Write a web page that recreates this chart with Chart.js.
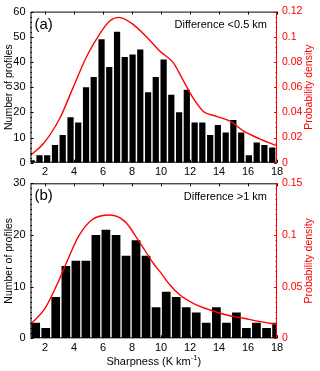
<!DOCTYPE html>
<html>
<head>
<meta charset="utf-8">
<script src="https://cdn.jsdelivr.net/npm/chart.js@4/dist/chart.umd.min.js"></script>
<style>
  html, body { margin: 0; padding: 0; background: #fff; }
  #wrap { position: relative; width: 320px; height: 371px; overflow: hidden; }
  canvas { position: absolute; left: 0; }
  #ca { top: 0; }
  #cb { top: 170px; }
</style>
</head>
<body>
<div id="wrap">
  <canvas id="ca" width="320" height="185"></canvas>
  <canvas id="cb" width="320" height="201"></canvas>
</div>
<script>
// ---------- data ----------
const xTicks = [2, 4, 6, 8, 10, 12, 14, 16, 18];

// Panel (a): Difference <0.5 km
const binCentersA = [1.08, 1.62, 2.15, 2.69, 3.22, 3.76, 4.29, 4.83, 5.36, 5.90, 6.43, 6.97,
                     7.50, 8.04, 8.57, 9.11, 9.64, 10.18, 10.71, 11.25, 11.78, 12.32, 12.85,
                     13.39, 13.92, 14.46, 14.99, 15.53, 16.06, 16.60, 17.13, 17.67];
const countsA = [1, 3, 3, 7, 11, 18, 16, 30, 34, 49, 38, 52, 42, 43, 45, 28,
                 34, 41, 27, 20, 29, 16, 16, 11, 15, 12, 17, 12, 3, 8, 7, 6];
const pdfXA = [1.0, 1.88, 3.03, 3.95, 4.88, 5.79, 6.48, 7.1, 8.09, 9.01, 9.93, 10.85,
               11.54, 12.23, 12.92, 13.84, 14.76, 15.68, 16.83, 17.93];
const pdfYA = [0.006, 0.015, 0.0355, 0.06, 0.0845, 0.1025, 0.1127, 0.1154, 0.1097, 0.0999,
               0.0885, 0.0793, 0.0652, 0.051, 0.0407, 0.0368, 0.033, 0.0252, 0.0188, 0.0137];

// Panel (b): Difference >1 km
const binCentersB = [1.36, 2.05, 2.74, 3.44, 4.13, 4.82, 5.51, 6.20, 6.90, 7.59, 8.28, 8.97,
                     9.66, 10.36, 11.05, 11.74, 12.43, 13.12, 13.82, 14.51, 15.20, 15.89,
                     16.58, 17.28, 17.97];
const countsB = [3, 2, 8, 14, 15, 15, 20, 21, 20, 16, 19, 16, 6, 9, 8, 6, 5, 3, 6, 3, 5, 2, 3, 2, 3];
const pdfXB = [1.0, 2.0, 2.92, 3.61, 4.3, 5.22, 6.48, 7.52, 8.43, 9.47, 9.93, 10.62,
               11.31, 12.23, 13.38, 14.53, 15.68, 16.83, 17.98];
const pdfYB = [0.0135, 0.029, 0.0548, 0.0774, 0.0983, 0.1145, 0.1193, 0.1129, 0.0951, 0.0726,
               0.0645, 0.0516, 0.0419, 0.0339, 0.0274, 0.0225, 0.0194, 0.0161, 0.0135];

// ---------- helpers ----------
const FONT = '"Liberation Sans", Arial, Helvetica, sans-serif';
const RED = '#ff0000';

const framePlugin = {
  id: 'frame',
  afterDraw(chart, args, o) {
    const { ctx, chartArea: { left, right, top, bottom }, scales } = chart;
    ctx.save();
    ctx.lineWidth = 1;
    ctx.strokeStyle = '#000';
    ctx.beginPath();
    ctx.moveTo(right, top + 0.5); ctx.lineTo(left + 0.5, top + 0.5);
    ctx.lineTo(left + 0.5, bottom - 0.5); ctx.lineTo(right, bottom - 0.5);
    xTicks.forEach(v => {
      const px = Math.round(scales.x.getPixelForValue(v)) + 0.5;
      ctx.moveTo(px, bottom); ctx.lineTo(px, bottom - 3);
      ctx.moveTo(px, top); ctx.lineTo(px, top + 3);
    });
    const yS = scales.y;
    for (let i = 0; i <= o.yMinorCount; i++) {
      const v = i * o.yMax / o.yMinorCount;
      const py = Math.round(yS.getPixelForValue(v)) + 0.5;
      const len = (i % o.yMinorPer === 0) ? 3 : 1.5;
      ctx.moveTo(left, py); ctx.lineTo(left + len, py);
    }
    ctx.stroke();
    ctx.strokeStyle = RED;
    ctx.beginPath();
    ctx.moveTo(right - 0.5, top); ctx.lineTo(right - 0.5, bottom);
    const y2 = scales.y2;
    for (let i = 0; i <= o.y2MinorCount; i++) {
      const v = i * o.y2Max / o.y2MinorCount;
      const py = Math.round(y2.getPixelForValue(v)) + 0.5;
      const len = (i % o.y2MinorPer === 0) ? 3 : 1.5;
      ctx.moveTo(right, py); ctx.lineTo(right - len, py);
    }
    ctx.stroke();

    ctx.fillStyle = '#000';
    ctx.font = '15px ' + FONT;
    ctx.textAlign = 'left';
    ctx.textBaseline = 'middle';
    ctx.fillText(o.panel, left + 4, top + 13);
    ctx.font = '11px ' + FONT;
    ctx.textAlign = 'right';
    ctx.fillText(o.note, right - 10, top + 13.5);

    ctx.save();
    ctx.font = '10.5px ' + FONT;
    ctx.textAlign = 'center';
    ctx.textBaseline = 'middle';
    ctx.translate(9, (top + bottom) / 2);
    ctx.rotate(-Math.PI / 2);
    ctx.fillText('Number of profiles', 0, 0);
    ctx.restore();
    ctx.save();
    ctx.font = '10.5px ' + FONT;
    ctx.fillStyle = RED;
    ctx.textAlign = 'center';
    ctx.textBaseline = 'middle';
    ctx.translate(309, (top + bottom) / 2);
    ctx.rotate(-Math.PI / 2);
    ctx.fillText('Probability density', 0, 0);
    ctx.restore();

    if (o.xTitle) {
      ctx.font = '11px ' + FONT;
      ctx.textBaseline = 'alphabetic';
      ctx.textAlign = 'left';
      const main = 'Sharpness (K km';
      const sup = '-1';
      const close = ')';
      const wMain = ctx.measureText(main).width;
      ctx.font = '7.5px ' + FONT;
      const wSup = ctx.measureText(sup).width;
      ctx.font = '11px ' + FONT;
      const wClose = ctx.measureText(close).width;
      const total = wMain + wSup + wClose;
      const cx = (left + right) / 2;
      const base = bottom + 26.5;
      let x0 = cx - total / 2;
      ctx.fillText(main, x0, base);
      ctx.font = '7.5px ' + FONT;
      ctx.fillText(sup, x0 + wMain, base - 4.5);
      ctx.font = '11px ' + FONT;
      ctx.fillText(close, x0 + wMain + wSup, base);
    }
    ctx.restore();
  }
};

function makeChart(id, centers, counts, pdfX, pdfY, cfg) {
  return new Chart(document.getElementById(id), {
    type: 'bar',
    data: {
      datasets: [
        {
          type: 'line',
          data: pdfX.map((x, i) => ({ x: x, y: pdfY[i] })),
          yAxisID: 'y2',
          borderColor: RED,
          borderWidth: 1.4,
          pointRadius: 0,
          cubicInterpolationMode: 'monotone',
          fill: false,
          order: 0
        },
        {
          type: 'bar',
          data: centers.map((x, i) => ({ x: x, y: counts[i] })),
          yAxisID: 'y',
          backgroundColor: '#000',
          borderWidth: 0,
          barPercentage: cfg.barPct,
          categoryPercentage: 1,
          order: 1
        }
      ]
    },
    options: {
      responsive: false,
      animation: false,
      events: [],
      layout: { padding: { top: cfg.padTop, left: 0, right: 0, bottom: 0 } },
      plugins: {
        legend: { display: false },
        tooltip: { enabled: false },
        frame: cfg.frame
      },
      scales: {
        x: {
          type: 'linear',
          offset: false,
          min: 1, max: 18,
          afterBuildTicks: s => { s.ticks = xTicks.map(v => ({ value: v })); },
          grid: { display: false, drawTicks: false, offset: false },
          border: { display: false },
          ticks: { padding: 3, color: '#000', font: { family: FONT, size: 11 }, maxRotation: 0 },
          afterFit: s => { s.height = cfg.xHeight; }
        },
        y: {
          position: 'left',
          min: 0, max: cfg.yMax,
          ticks: { stepSize: cfg.yStep, padding: 5, color: '#000', font: { family: FONT, size: 11 } },
          grid: { display: false, drawTicks: false },
          border: { display: false },
          afterFit: s => { s.width = 30.5; }
        },
        y2: {
          position: 'right',
          min: 0, max: cfg.y2Max,
          ticks: {
            stepSize: cfg.y2Step, padding: 5, color: RED,
            font: { family: FONT, size: 10.5 },
            callback: v => String(+Number(v).toFixed(3))
          },
          grid: { display: false, drawTicks: false },
          border: { display: false },
          afterFit: s => { s.width = 43; }
        }
      }
    },
    plugins: [framePlugin]
  });
}

makeChart('ca', binCentersA, countsA, pdfXA, pdfYA, {
  barPct: 0.81, padTop: 7.3, xHeight: 22.3, yMax: 60, yStep: 10, y2Max: 0.12, y2Step: 0.02,
  frame: { panel: '(a)', note: 'Difference <0.5 km', yMax: 60, yMinorCount: 30, yMinorPer: 5,
           y2Max: 0.12, y2MinorCount: 30, y2MinorPer: 5, xTitle: false }
});

makeChart('cb', binCentersB, countsB, pdfXB, pdfYB, {
  barPct: 0.87, padTop: 13.3, xHeight: 32.7, yMax: 30, yStep: 10, y2Max: 0.15, y2Step: 0.05,
  frame: { panel: '(b)', note: 'Difference >1 km', yMax: 30, yMinorCount: 30, yMinorPer: 10,
           y2Max: 0.15, y2MinorCount: 30, y2MinorPer: 10, xTitle: true }
});
</script>
</body>
</html>
